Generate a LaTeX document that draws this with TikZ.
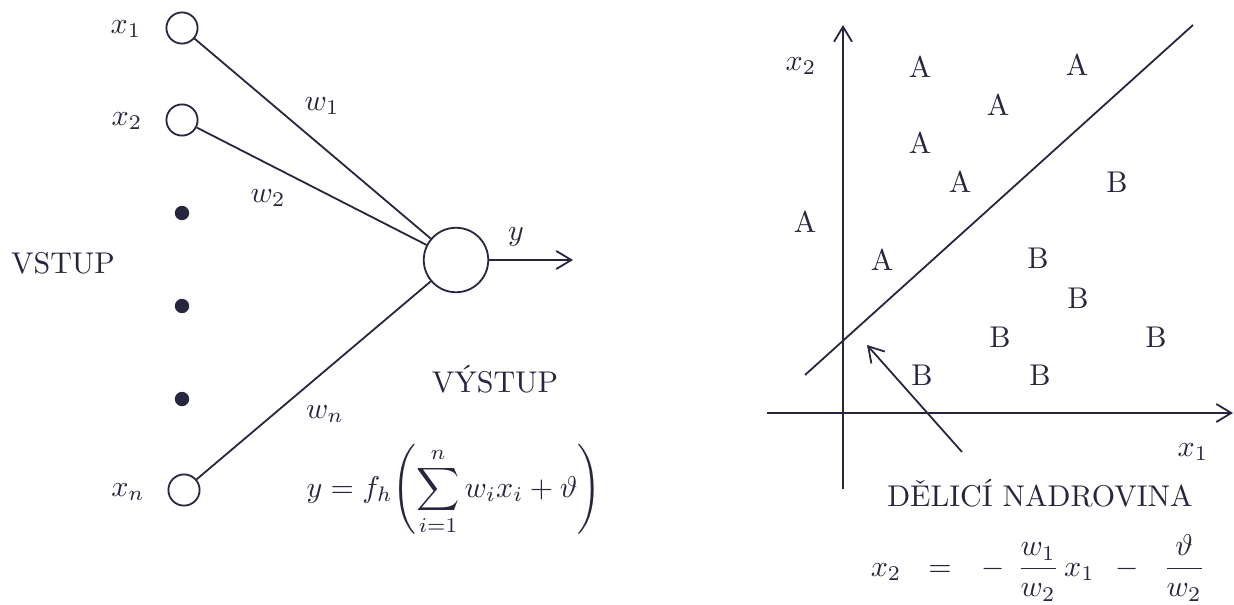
\documentclass[tikz,border=0pt]{standalone}
\usepackage{amsmath}
\usetikzlibrary{arrows.meta}
\definecolor{ink}{RGB}{38,38,62}
\begin{document}
\begin{tikzpicture}[x=0.33333pt,y=-0.33333pt,
  ink line/.style={draw=ink,line width=0.6pt},
  inp/.style={circle,draw=ink,line width=0.6pt,fill=white,minimum size=10.4pt,inner sep=0pt},
  neuron/.style={circle,draw=ink,line width=0.6pt,fill=white,minimum size=21.5pt,inner sep=0pt},
  dotn/.style={circle,fill=ink,minimum size=4.8pt,inner sep=0pt},
  lbl/.style={text=ink,inner sep=1pt},
  tip/.style={-{Straight Barb[length=5pt,width=6pt,line width=0.6pt]}},
  every node/.append style={text=ink}]
\path[use as bounding box] (0,0) rectangle (1234,605);

% ---- left: neuron ----
\node[inp] (x1) at (182,28) {};
\node[inp] (x2) at (182,120) {};
\node[inp] (xn) at (184,490) {};
\node[dotn] (d1) at (182,213) {};
\node[dotn] (d2) at (182,306) {};
\node[dotn] (d3) at (182,399) {};
\node[neuron] (out) at (456,260) {};
\coordinate (yend) at (573,260);

\node[lbl] (lx1) at (126,29) {$x_1$};
\node[lbl] (lx2) at (127,121) {$x_2$};
\node[lbl] (lxn) at (128,492) {$x_n$};
\node[lbl] (vstup) at (63,263) {VSTUP};

\draw[ink line] (x1) -- (out);
\draw[ink line] (x2) -- (out);
\draw[ink line] (xn) -- (out);
\draw[ink line,tip] (out) -- (yend);

\node[lbl] (w1) at (322,106) {$w_1$};
\node[lbl] (w2) at (268,198) {$w_2$};
\node[lbl] (wn) at (325,414) {$w_n$};
\node[lbl] (ly) at (516,237) {$y$};
\node[lbl] (vystup) at (495,379) {VÝSTUP};
\node[lbl,inner sep=0pt] (form) at (454,490) {$\displaystyle y = f_h\Biggl(\sum_{i=1}^{n} w_i x_i + \vartheta\Biggr)$};

% ---- right: separating hyperplane ----
\coordinate (ybot) at (843,489);
\coordinate (ytop) at (843,25);
\coordinate (xleft) at (767,413);
\coordinate (xright) at (1233,413);
\draw[ink line,tip] (ybot) -- (ytop);
\draw[ink line,tip] (xleft) -- (xright);
\coordinate (hl) at (805,375);
\coordinate (hr) at (1193,25);
\draw[ink line] (hl) -- (hr);
\coordinate (ptail) at (962,452);
\coordinate (phead) at (867,345);
\draw[ink line,tip] (ptail) -- (phead);

\node[lbl] (ax2) at (801,66) {$x_2$};
\node[lbl] (ax1) at (1193,452) {$x_1$};

\node[lbl] (a1) at (920,67) {A};
\node[lbl] (a2) at (1077,65) {A};
\node[lbl] (a3) at (998,105) {A};
\node[lbl] (a4) at (920,143) {A};
\node[lbl] (a5) at (960,182) {A};
\node[lbl] (a6) at (805,222) {A};
\node[lbl] (a7) at (882,260) {A};

\node[lbl] (b1) at (1117,182) {B};
\node[lbl] (b2) at (1038,258) {B};
\node[lbl] (b3) at (1078,298) {B};
\node[lbl] (b4) at (1000,337) {B};
\node[lbl] (b5) at (1156,337) {B};
\node[lbl] (b6) at (922,375) {B};
\node[lbl] (b7) at (1040,375) {B};

\node[lbl] (delic) at (1040,493) {DĚLICÍ NADROVINA};
\node[lbl] (eq) at (1038,568) {$\displaystyle x_2\hspace{9pt}{=}\hspace{10pt}{-}\hspace{4pt}\frac{w_1}{w_2}\,x_1\hspace{7pt}{-}\hspace{8pt}\frac{\vartheta}{w_2}$};
\end{tikzpicture}
\end{document}
